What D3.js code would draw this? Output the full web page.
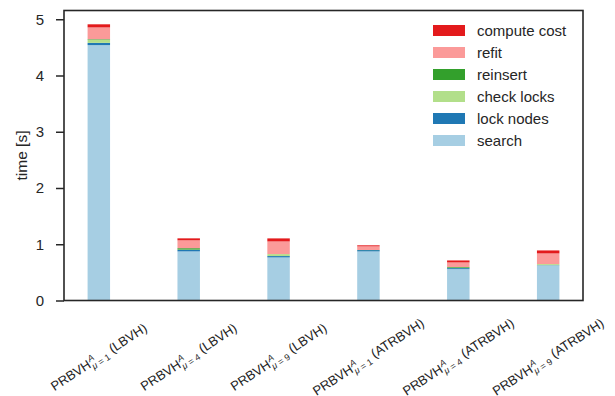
<!DOCTYPE html>
<html>
<head>
<meta charset="utf-8">
<script src="https://cdn.jsdelivr.net/npm/d3@7"></script>
<style>
  html, body { margin: 0; padding: 0; background: #fff; }
  svg { display: block; font-family: "Liberation Sans", Arial, sans-serif; }
</style>
</head>
<body>
<svg id="chart" width="615" height="396"></svg>
<script>
// Per-configuration timing breakdown (seconds)
const variants = ["1 (LBVH)", "4 (LBVH)", "9 (LBVH)", "1 (ATRBVH)", "4 (ATRBVH)", "9 (ATRBVH)"];
const muValues = ["1", "4", "9", "1", "4", "9"];
const builders = ["LBVH", "LBVH", "LBVH", "ATRBVH", "ATRBVH", "ATRBVH"];

const phases = ["search", "lock nodes", "check locks", "reinsert", "refit", "compute cost"];
const phaseColors = ["#a6cee3", "#1f78b4", "#b2df8a", "#33a02c", "#fb9a99", "#e31a1c"];

const search      = [4.540, 0.873, 0.766, 0.873, 0.558, 0.623];
const lockNodes   = [0.040, 0.027, 0.024, 0.023, 0.018, 0.005];
const checkLocks  = [0.055, 0.005, 0.035, 0.000, 0.005, 0.019];
const reinsert    = [0.010, 0.025, 0.000, 0.002, 0.013, 0.000];
const refit       = [0.210, 0.140, 0.225, 0.065, 0.083, 0.190];
const computeCost = [0.055, 0.035, 0.054, 0.018, 0.035, 0.053];

const yTicks = [0, 1, 2, 3, 4, 5];

const seriesValues = [search, lockNodes, checkLocks, reinsert, refit, computeCost];
const rows = variants.map((v, i) => {
  const r = { idx: i };
  phases.forEach((p, k) => { r[p] = seriesValues[k][i]; });
  return r;
});

const svg = d3.select("#chart");
const ink = "#262626";
const plotL = 64, plotR = 583, plotT = 10.5, plotB = 300.5;

const stacked = d3.stack().keys(phases)(rows);
const maxTotal = d3.max(rows, r => d3.sum(phases, p => r[p]));

const x = d3.scaleLinear().domain([-0.3875, variants.length - 1 + 0.3875]).range([plotL, plotR]);
const y = d3.scaleLinear().domain([0, maxTotal * 1.05]).range([plotB, plotT]);
const barW = x(0.25) - x(0);

// stacked bars
svg.append("g").selectAll("g")
  .data(stacked)
  .join("g")
  .attr("fill", (d, k) => phaseColors[k])
  .selectAll("rect")
  .data(d => d)
  .join("rect")
  .attr("x", d => x(d.data.idx) - barW / 2)
  .attr("width", barW)
  .attr("y", d => y(d[1]))
  .attr("height", d => Math.max(0, y(d[0]) - y(d[1])));

// y axis
const yAxis = d3.axisLeft(y).tickValues(yTicks).tickFormat(d3.format("d")).tickSize(8).tickPadding(12);
const gy = svg.append("g").attr("transform", `translate(${plotL},0)`).call(yAxis);
gy.select(".domain").remove();
gy.selectAll(".tick line").attr("stroke", ink).attr("stroke-width", 1.5);
gy.selectAll(".tick text").attr("fill", ink).style("font-size", "15px")
  .style("font-family", "'Liberation Sans', Arial, sans-serif");

// frame
svg.append("rect")
  .attr("x", plotL).attr("y", plotT)
  .attr("width", plotR - plotL).attr("height", plotB - plotT)
  .attr("fill", "none").attr("stroke", ink).attr("stroke-width", 1.6);

// y label
svg.append("text")
  .attr("transform", `translate(26.5,${(plotT + plotB) / 2}) rotate(-90)`)
  .attr("text-anchor", "middle")
  .attr("fill", ink)
  .style("font-size", "15.5px")
  .text("time [s]");

// x tick labels: PRBVH^A_{mu=k} (builder)
const fs = 13, small = 9;
variants.forEach((v, i) => {
  const g = svg.append("g");
  const inner = g.append("g");
  const t1 = inner.append("text").attr("x", 0).attr("y", 0).style("font-size", fs + "px").attr("fill", ink).text("PRBVH");
  const w1 = t1.node().getComputedTextLength();
  const sup = inner.append("text").attr("x", w1 + 0.5).attr("y", -5).style("font-size", small + "px")
    .style("font-style", "italic").attr("fill", ink).text("A");
  const sub = inner.append("text").attr("x", w1 + 0.5).attr("y", 3.5).style("font-size", small + "px").attr("fill", ink);
  sub.append("tspan").style("font-style", "italic").text("\u03bc");
  sub.append("tspan").text(" = " + muValues[i]);
  const wSub = Math.max(sub.node().getComputedTextLength(), sup.node().getComputedTextLength());
  const t3 = inner.append("text").attr("x", w1 + 0.5 + wSub).attr("y", 0).style("font-size", fs + "px")
    .attr("fill", ink).text("\u00a0(" + builders[i] + ")");
  const total = w1 + 0.5 + wSub + t3.node().getComputedTextLength();
  inner.attr("transform", `translate(${-total / 2},4.5)`);
  g.attr("transform", `translate(${x(i)},357) rotate(-33)`);
});

// legend (top entry first)
const legend = svg.append("g");
const order = phases.map((p, k) => k).reverse();
order.forEach((k, j) => {
  const cy = 30.5 + j * 22;
  legend.append("rect").attr("x", 433).attr("y", cy - 5.5).attr("width", 32).attr("height", 11).attr("fill", phaseColors[k]);
  legend.append("text").attr("x", 477).attr("y", cy + 5.3).attr("fill", ink).style("font-size", "15px").text(phases[k]);
});
</script>
</body>
</html>
